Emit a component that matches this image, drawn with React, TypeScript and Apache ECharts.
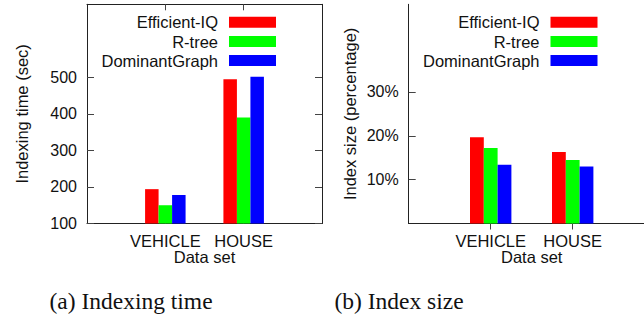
import React, { useEffect, useRef } from "react";
import * as echarts from "echarts";

const categories = ["VEHICLE", "HOUSE"];
const seriesNames = ["Efficient-IQ", "R-tree", "DominantGraph"];
const seriesColors = ["#ff0000", "#00ff00", "#0000ff"];
const timeEfficientIQ = [194, 495];
const timeRTree = [150, 390];
const timeDominantGraph = [178, 502];
const sizeEfficientIQ = [19.7, 16.3];
const sizeRTree = [17.2, 14.5];
const sizeDominantGraph = [13.4, 13.0];
const timeTickLabels = [100, 200, 300, 400, 500];
const sizeTickLabels = [10, 20, 30];
const captions = ["(a) Indexing time", "(b) Index size"];

const SANS = "'Liberation Sans', Arial, Helvetica, sans-serif";
const SERIF = "'Liberation Serif', 'Times New Roman', serif";
const INK = "#111";

export default function App() {
  const ref = useRef<HTMLDivElement>(null);
  useEffect(() => {
    document.body.style.margin = "0";
    const chart = echarts.init(ref.current!, null, { renderer: "svg" });
    const axisData = ["", ...categories, ""];
    const pad = (arr: number[]) => ["-", ...arr, "-"];
    const lineStyle = { color: "#222", width: 1 };
    const tickStyle = { color: "#444", width: 1 };

    const xAxes: any[] = [];
    const yAxes: any[] = [];
    [0, 1].forEach((g) => {
      xAxes.push({
        type: "category",
        gridIndex: g,
        data: axisData,
        boundaryGap: false,
        position: "bottom",
        name: "Data set",
        nameLocation: "middle",
        nameGap: 25,
        nameMoveOverlap: false,
        nameTextStyle: { fontSize: 16.5, fontFamily: SANS, color: INK },
        axisLine: { lineStyle },
        axisTick: { inside: true, length: 6, lineStyle: tickStyle, interval: (i: number) => i === 1 || i === 2 },
        axisLabel: { interval: 0, margin: 9, fontSize: 16.5, fontFamily: SANS, color: INK },
        splitLine: { show: false },
      });
      xAxes.push({
        type: "category",
        gridIndex: g,
        data: axisData,
        boundaryGap: false,
        position: "top",
        axisLine: { lineStyle },
        axisTick: { inside: true, length: 6, lineStyle: tickStyle, interval: (i: number) => i === 1 || i === 2 },
        axisLabel: { show: false },
        splitLine: { show: false },
      });
    });

    const yCfg = [
      { min: 100, max: 700, interval: 100, ticks: timeTickLabels, name: "Indexing time (sec)", gap: 57, fmt: (v: number) => String(v) },
      { min: 0, max: 50, interval: 10, ticks: sizeTickLabels, name: "Index size (percentage)", gap: 50, fmt: (v: number) => v + "%" },
    ];
    yCfg.forEach((c, g) => {
      yAxes.push({
        type: "value",
        gridIndex: g,
        position: "left",
        min: c.min,
        max: c.max,
        interval: c.interval,
        name: c.name,
        nameLocation: "middle",
        nameGap: c.gap,
        nameTextStyle: { fontSize: 16.5, fontFamily: SANS, color: INK },
        axisLine: { show: true, lineStyle },
        axisTick: { show: true, inside: true, length: 7, lineStyle: tickStyle, customValues: c.ticks },
        axisLabel: { margin: 10, fontSize: 16, fontFamily: SANS, color: INK, customValues: c.ticks, formatter: c.fmt },
        splitLine: { show: false },
      });
      yAxes.push({
        type: "value",
        gridIndex: g,
        position: "right",
        min: c.min,
        max: c.max,
        interval: c.interval,
        axisLine: { show: true, lineStyle },
        axisTick: { show: true, inside: true, length: 7, lineStyle: tickStyle, customValues: c.ticks },
        axisLabel: { show: false },
        splitLine: { show: false },
      });
    });

    const timeData = [timeEfficientIQ, timeRTree, timeDominantGraph];
    const sizeData = [sizeEfficientIQ, sizeRTree, sizeDominantGraph];
    const series: any[] = [];
    seriesNames.forEach((n, k) => {
      series.push({
        type: "bar",
        name: n,
        xAxisIndex: 0,
        yAxisIndex: 0,
        data: pad(timeData[k]),
        barWidth: 13.5,
        barGap: "0%",
        itemStyle: { color: seriesColors[k] },
        clip: true,
      });
    });
    seriesNames.forEach((n, k) => {
      series.push({
        type: "bar",
        name: n,
        xAxisIndex: 2,
        yAxisIndex: 2,
        data: pad(sizeData[k]),
        barWidth: 13.8,
        barGap: "0%",
        itemStyle: { color: seriesColors[k] },
        clip: true,
      });
    });

    const legendTops = [13.8, 33, 52];
    const legendRights = [368, 46.5];
    const legends: any[] = [];
    legendRights.forEach((r) => {
      seriesNames.forEach((n, k) => {
        legends.push({
          data: [n],
          orient: "vertical",
          align: "right",
          right: r,
          top: legendTops[k],
          padding: 0,
          itemWidth: 47,
          itemHeight: 11,
          icon: "rect",
          selectedMode: false,
          textStyle: { fontSize: 16.5, fontFamily: SANS, color: INK, padding: [0, 6, 0, 0] },
        });
      });
    });

    chart.setOption({
      animation: false,
      backgroundColor: "#fff",
      grid: [
        { left: 87, top: 4.3, width: 235, height: 219.2, outerBoundsMode: "none", containLabel: false },
        { left: 408.7, top: 4.3, width: 246, height: 219.2, outerBoundsMode: "none", containLabel: false },
      ],
      xAxis: xAxes,
      yAxis: yAxes,
      legend: legends,
      series,
      graphic: [
        { type: "text", x: 131, y: 301, style: { text: captions[0], fontSize: 23.5, fontFamily: SERIF, fill: INK, align: "center", verticalAlign: "middle" } },
        { type: "text", x: 399, y: 301, style: { text: captions[1], fontSize: 23.5, fontFamily: SERIF, fill: INK, align: "center", verticalAlign: "middle" } },
      ],
    });
    return () => chart.dispose();
  }, []);
  return <div ref={ref} style={{ width: 644, height: 322 }} />;
}
